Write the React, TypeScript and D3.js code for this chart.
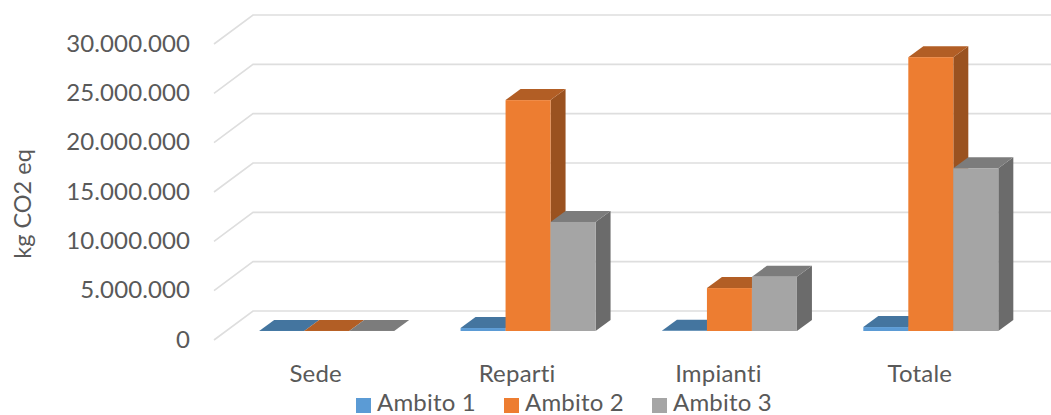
import React from "react";
import * as d3 from "d3";

const categories = ["Sede", "Reparti", "Impianti", "Totale"];
const seriesNames = ["Ambito 1", "Ambito 2", "Ambito 3"];
const ambito1 = [10000, 300000, 15000, 400000];
const ambito2 = [10000, 23400000, 4350000, 27750000];
const ambito3 = [10000, 11050000, 5500000, 16500000];
const yTicks = [0, 5000000, 10000000, 15000000, 20000000, 25000000, 30000000];

const width = 1051;
const height = 415;
const fontFamily = "Lato, 'Open Sans', sans-serif";
const textColor = "#595959";
const gridColor = "#DEDEDE";

const palette = [
  { front: "#5B9BD5", top: "#44759F", side: "#3E6B92" },
  { front: "#ED7D31", top: "#B25E25", side: "#9A5220" },
  { front: "#A5A5A5", top: "#7C7C7C", side: "#6B6B6B" },
];

// Oblique projection: the floor runs back by wallDx/wallDy, bars sit part way in.
const wallDx = 39;
const wallDy = -29;
const barDx = 15;
const barDy = -11;
const barOffsetDx = 12;
const barOffsetDy = -9;
const barWidth = 45;

const x = d3.scaleBand<string>().domain(categories).range([214, 1019.5]);
const y = d3.scaleLinear().domain([0, 30000000]).range([340, 44]);
const formatTick = (v: number) => d3.format(",")(v).replace(/,/g, ".");

export default function App() {
  const table = [ambito1, ambito2, ambito3];

  return (
    <svg
      width={width}
      height={height}
      viewBox={`0 0 ${width} ${height}`}
      style={{ position: "absolute", left: 0, top: 0, background: "#fff" }}
      fontFamily={fontFamily}
    >
      {yTicks.map((t) => {
        const y0 = y(t);
        const xBack = 214 + wallDx;
        const yBack = y0 + wallDy;
        return (
          <g key={t}>
            <path
              d={`M214,${y0}L${xBack},${yBack}L${width},${yBack}`}
              fill="none"
              stroke={gridColor}
              strokeWidth={1.6}
            />
            <text x={190} y={y0 + 7.5} textAnchor="end" fontSize={24} fill={textColor} letterSpacing={0.1}>
              {formatTick(t)}
            </text>
          </g>
        );
      })}

      {categories.map((c, ci) => {
        const band = x(c)!;
        const left = band + x.bandwidth() / 2 - (barWidth * 3) / 2 + barOffsetDx;
        const base = y(0) + barOffsetDy;
        return (
          <g key={c}>
            {table.map((values, si) => {
              const x0 = left + si * barWidth;
              const x1 = x0 + barWidth;
              const top = base - (y(0) - y(values[ci]));
              const colors = palette[si];
              return (
                <g key={si}>
                  <path
                    d={`M${x1},${base}L${x1 + barDx},${base + barDy}L${x1 + barDx},${top + barDy}L${x1},${top}Z`}
                    fill={colors.side}
                  />
                  <path
                    d={`M${x0},${top}L${x0 + barDx},${top + barDy}L${x1 + barDx},${top + barDy}L${x1},${top}Z`}
                    fill={colors.top}
                  />
                  <rect x={x0} y={top} width={barWidth} height={base - top} fill={colors.front} />
                </g>
              );
            })}
            <text
              x={band + x.bandwidth() / 2 + 1}
              y={382}
              textAnchor="middle"
              fontSize={24}
              fill={textColor}
              letterSpacing={0.2}
            >
              {c}
            </text>
          </g>
        );
      })}

      <text
        transform="translate(31,204) rotate(-90)"
        textAnchor="middle"
        fontSize={23.5}
        fill={textColor}
      >
        kg CO2 eq
      </text>

      {seriesNames.map((name, i) => {
        const lx = 356 + i * 148;
        return (
          <g key={name}>
            <rect x={lx} y={398} width={15} height={15} fill={palette[i].front} />
            <text x={lx + 21} y={410.5} fontSize={24} fill={textColor} letterSpacing={0.2}>
              {name}
            </text>
          </g>
        );
      })}
    </svg>
  );
}
